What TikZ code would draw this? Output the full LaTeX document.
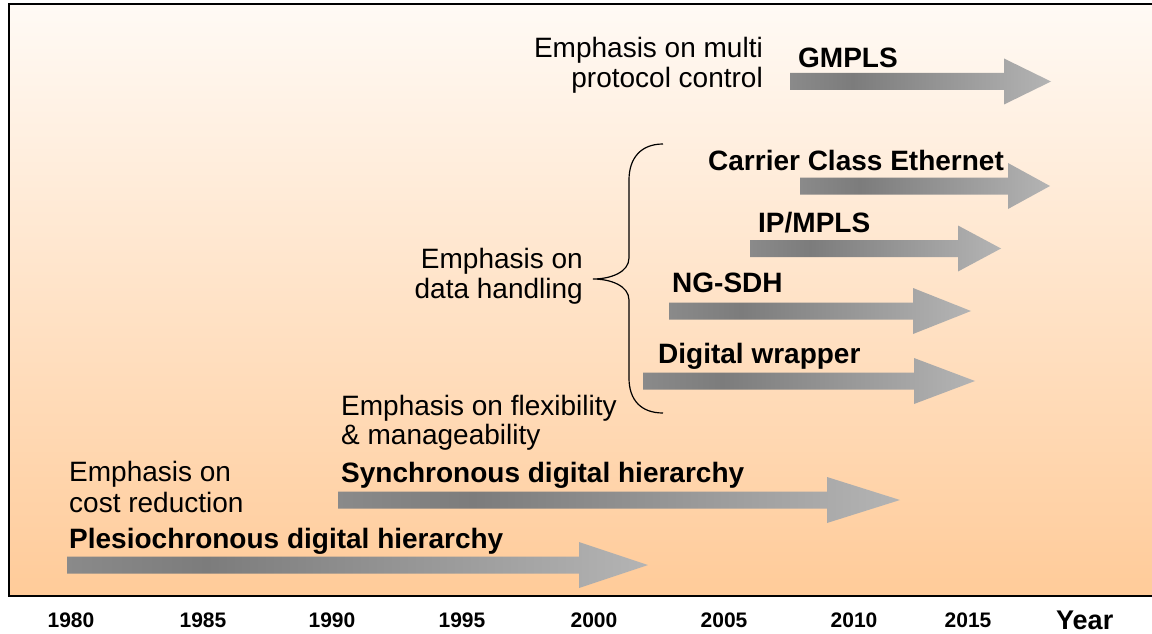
\documentclass[tikz,border=0pt]{standalone}
\usepackage{fontspec}
\setmainfont{Liberation Sans}
\definecolor{bgtop}{RGB}{255,250,245}
\definecolor{bgbot}{RGB}{255,203,153}
\definecolor{arL}{RGB}{138,138,138}
\definecolor{arD}{RGB}{124,124,124}
\definecolor{arR}{RGB}{180,180,180}
\pgfdeclarehorizontalshading{arrowgrad}{100bp}{color(0bp)=(arL); color(25bp)=(arL); color(37bp)=(arD); color(75bp)=(arR); color(100bp)=(arR)}
\tikzset{
  lbl/.style={inner sep=0pt, font=\fontsize{28}{31}\selectfont},
  blbl/.style={inner sep=0pt, font=\fontsize{28}{31}\selectfont\bfseries},
  yr/.style={inner sep=0pt, anchor=base, font=\fontsize{21}{24}\selectfont\bfseries},
  tarrow/.style={shading=arrowgrad, draw=none},
  bracestyle/.style={draw=black, line width=1.2pt},
}
\newcommand{\tlarrow}[4]{%
  \path[tarrow] (#1,#4-8.5) -- (#2,#4-8.5) -- (#2,#4-23) -- (#3,#4) -- (#2,#4+23) -- (#2,#4+8.5) -- (#1,#4+8.5) -- cycle;}
\begin{document}
\begin{tikzpicture}[x=1pt,y=-1pt]
\useasboundingbox (0,0) rectangle (1152,634);
\clip (0,0) rectangle (1152,634);
\fill[white] (0,0) rectangle (1152,634);
\shade[top color=bgtop, bottom color=bgbot, draw=black, line width=2pt] (9,4) rectangle (1175,596);

% arrows
\tlarrow{790}{1004}{1051}{81.5}
\tlarrow{800}{1008}{1050}{186}
\tlarrow{750}{958}{1001}{248.5}
\tlarrow{669}{913}{971}{311}
\tlarrow{643}{914}{975}{381}
\tlarrow{338}{827}{900}{500}
\tlarrow{67}{579}{648}{565}

% brace
\draw[bracestyle] (663,144) .. controls (641,144) and (629,158) .. (629,180) -- (629,258)
  .. controls (629,272) and (611,279) .. (593,279)
  .. controls (611,279) and (629,286) .. (629,300) -- (629,378)
  .. controls (629,400) and (641,413) .. (663,413);

% labels
\node[lbl, anchor=base east] (mp1) at (763,58) {Emphasis on multi};
\node[lbl, anchor=base east] (mp2) at (763,88) {protocol control};
\node[blbl, anchor=base west] (gmpls) at (798,67) {GMPLS};
\node[blbl, anchor=base west] (cce) at (708,170) {Carrier Class Ethernet};
\node[blbl, anchor=base west] (ipmpls) at (758,232) {IP/MPLS};
\node[blbl, anchor=base west] (ngsdh) at (672,292) {NG-SDH};
\node[blbl, anchor=base west] (dw) at (658,363) {Digital wrapper};
\node[lbl, anchor=base east] (dh1) at (583,268) {Emphasis on};
\node[lbl, anchor=base east] (dh2) at (583,298) {data handling};
\node[lbl, anchor=base west] (fx1) at (341,415) {Emphasis on flexibility};
\node[lbl, anchor=base west] (fx2) at (341,444) {\& manageability};
\node[blbl, anchor=base west] (sdh) at (341,482) {Synchronous digital hierarchy};
\node[lbl, anchor=base west] (cr1) at (69,481) {Emphasis on};
\node[lbl, anchor=base west] (cr2) at (69,512) {cost reduction};
\node[blbl, anchor=base west] (pdh) at (69,548) {Plesiochronous digital hierarchy};

% years
\node[yr] (y1980) at (71,627) {1980};
\node[yr] (y1985) at (203,627) {1985};
\node[yr] (y1990) at (332,627) {1990};
\node[yr] (y1995) at (462,627) {1995};
\node[yr] (y2000) at (594,627) {2000};
\node[yr] (y2005) at (724,627) {2005};
\node[yr] (y2010) at (854,627) {2010};
\node[yr] (y2015) at (968,627) {2015};
\node[inner sep=0pt, anchor=base west, font=\fontsize{27}{30}\selectfont\bfseries] (year) at (1056,629) {Year};
\end{tikzpicture}
\end{document}
